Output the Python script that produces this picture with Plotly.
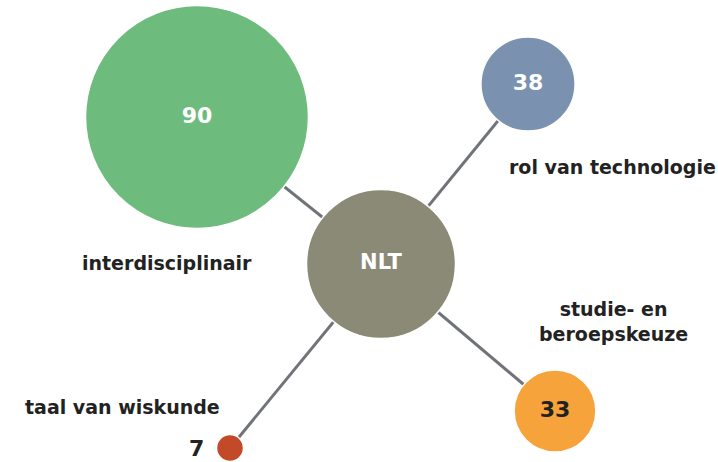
import plotly.graph_objects as go

# ---- data ----
categories = ["interdisciplinair", "rol van technologie", "studie- en<br>beroepskeuze", "taal van wiskunde"]
values = [90, 38, 33, 7]
center_label = "NLT"

# ---- layout (pixel positions of nodes on a 718x462 canvas) ----
hub_pos = (381, 264)
node_x = [197, 528, 555, 230]
node_y = [117, 84, 411, 448]
colors = ["#6dbb7d", "#7a91b0", "#f5a33a", "#c24a28"]
value_text_colors = ["white", "white", "#222222", "#222222"]
label_x = [167, 612, 613, 122]
label_y = [263, 167, 321, 407]

fig = go.Figure()

# spokes
lx, ly = [], []
for x, y in zip(node_x, node_y):
    lx += [hub_pos[0], x, None]
    ly += [hub_pos[1], y, None]
fig.add_trace(go.Scatter(x=lx, y=ly, mode="lines",
                         line=dict(color="#707378", width=3), hoverinfo="skip"))

# hub
fig.add_trace(go.Scatter(x=[hub_pos[0]], y=[hub_pos[1]], mode="markers+text",
                         marker=dict(size=149, color="#8b8a76", line=dict(width=1.5, color="white")),
                         text=[f"<b>{center_label}</b>"], textposition="middle center",
                         textfont=dict(family="DejaVu Sans", size=21, color="white"),
                         cliponaxis=False, hoverinfo="skip"))

# bubbles
sizeref = 90 / 223
fig.add_trace(go.Scatter(
    x=node_x, y=node_y, mode="markers+text",
    marker=dict(size=values, sizemode="diameter", sizeref=sizeref, sizemin=13.5,
                color=colors, line=dict(width=1.5, color="white"), opacity=1),
    text=[f"<b>{v}</b>" if v > 10 else "" for v in values],
    textposition="middle center",
    textfont=dict(family="DejaVu Sans", size=22, color=value_text_colors),
    cliponaxis=False, customdata=categories, hovertemplate="%{customdata}: %{marker.size}<extra></extra>"))

# category labels
for lab, x, y in zip(categories, label_x, label_y):
    fig.add_annotation(x=x, y=y, text=f"<b>{lab}</b>", showarrow=False,
                       font=dict(family="DejaVu Sans", size=19, color="#222222"),
                       xanchor="center", yanchor="middle", align="center")

# small value label outside the smallest bubble
for v, x, y in zip(values, node_x, node_y):
    if v <= 10:
        fig.add_annotation(x=x - 24, y=y, text=f"<b>{v}</b>", showarrow=False,
                           font=dict(family="DejaVu Sans", size=22, color="#222222"),
                           xanchor="right", yanchor="middle")

fig.update_layout(
    width=718, height=462, margin=dict(l=0, r=0, t=0, b=0),
    paper_bgcolor="white", plot_bgcolor="white", showlegend=False,
    xaxis=dict(range=[0, 718], visible=False, fixedrange=True),
    yaxis=dict(range=[462, 0], visible=False, fixedrange=True),
)

fig.write_html("out.html", config={"displayModeBar": False},
               post_script="document.body.style.margin='0';document.body.style.overflow='hidden';")
